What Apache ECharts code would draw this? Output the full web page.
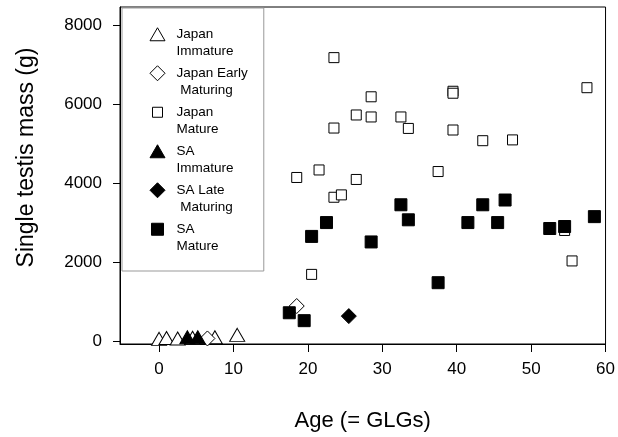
<!DOCTYPE html>
<html>
<head>
<meta charset="utf-8">
<script src="https://cdn.jsdelivr.net/npm/echarts@6/dist/echarts.min.js"></script>
<style>
html,body{margin:0;padding:0;background:#fff;}
#chart{width:618px;height:437px;}
</style>
</head>
<body>
<div id="chart"></div>
<script>
// ---- data (age in GLGs, single testis mass in g) ----
var japanImmature = [[0,70],[1,90],[2.5,80],[4.5,100],[7.5,110],[10.5,170]];
var japanEarlyMaturing = [[6.5,80],[18.5,900]];
var japanMature = [
  [23.5,7180],[28.5,6190],[39.5,6330],[39.5,6280],[57.5,6420],
  [26.5,5730],[28.5,5680],[32.5,5680],[23.5,5400],[33.5,5390],[39.5,5350],
  [43.5,5080],[47.5,5100],[21.5,4340],[18.5,4150],[37.5,4300],[26.5,4100],
  [23.5,3650],[24.5,3710],[20.5,1700],[54.5,2810],[55.5,2040]
];
var saImmature = [[3.8,110],[5.2,110]];
var saLateMaturing = [[25.5,645]];
var saMature = [
  [32.5,3460],[33.5,3080],[22.5,3010],[20.5,2660],[28.5,2520],[37.5,1490],
  [46.5,3580],[43.5,3460],[41.5,3010],[45.5,3010],[58.5,3160],[52.5,2860],
  [54.5,2910],[17.5,730],[19.5,530]
];
var xTicks = [0,10,20,30,40,50,60];
var yTicks = [0,2000,4000,6000,8000];
var seriesNames = ['Japan\nImmature','Japan Early\n Maturing','Japan\nMature','SA\nImmature','SA Late\n Maturing','SA\nMature'];

var FONT = 'Liberation Sans, Arial, Helvetica, sans-serif';
var openStyle = {color:'#fff', borderColor:'#000', borderWidth:1, opacity:1};
var fillStyle = {color:'#000', borderColor:'#000', borderWidth:1, opacity:1};

var B = 'path://M0,0M26,35';
var icons = [
  B + 'M4.5,15.25L12,2.25L19.5,15.25Z',
  B + 'M12,1.25L19.5,8.75L12,16.25L4.5,8.75Z',
  B + 'M7,3.75L17,3.75L17,13.75L7,13.75Z',
  B + 'M4.5,15.25L12,2.25L19.5,15.25Z',
  B + 'M12,1.25L19.5,8.75L12,16.25L4.5,8.75Z',
  B + 'M6,2.75L18,2.75L18,14.75L6,14.75Z'
];

function sc(name, data, symbol, size, style){
  return {type:'scatter', name:name, data:data, symbol:symbol, symbolSize:size,
    itemStyle:style, emphasis:{disabled:true}, animation:false};
}
function plain(v){ return String(v); }

var chart = echarts.init(document.getElementById('chart'), null, {renderer:'canvas'});
chart.setOption({
  animation:false,
  backgroundColor:'#fff',
  grid:{left:120, right:12, top:7, bottom:91, show:true, borderColor:'#000', borderWidth:1, backgroundColor:'transparent'},
  legend:{
    orient:'vertical', left:122, top:8, padding:[17,16,15,23],
    itemGap:3, itemWidth:26, itemHeight:35,
    backgroundColor:'#fff', borderColor:'#999', borderWidth:1, borderRadius:0,
    selectedMode:false,
    itemStyle:{borderWidth:1},
    textStyle:{fontSize:13.5, lineHeight:17.5, color:'#000', fontFamily:FONT},
    data: seriesNames.map(function(n,i){ return {name:n, icon:icons[i]}; })
  },
  xAxis:{
    type:'value', min:-5.25, max:60,
    axisLine:{show:true, onZero:false, lineStyle:{color:'#000', width:1}},
    axisTick:{show:true, inside:false, length:8, customValues:xTicks, lineStyle:{color:'#000'}},
    axisLabel:{customValues:xTicks, formatter:plain, fontSize:17, color:'#000', fontFamily:FONT, margin:17},
    splitLine:{show:false},
    name:'Age (= GLGs)', nameLocation:'middle', nameGap:66,
    nameTextStyle:{fontSize:22, color:'#000', fontFamily:FONT}
  },
  yAxis:{
    type:'value', min:-60, max:8460,
    axisLine:{show:true, onZero:false, lineStyle:{color:'#000', width:1}},
    axisTick:{show:true, inside:false, length:7, customValues:yTicks, lineStyle:{color:'#000'}},
    axisLabel:{customValues:yTicks, formatter:plain, fontSize:17, color:'#000', fontFamily:FONT, margin:18},
    splitLine:{show:false},
    name:'Single testis mass (g)', nameLocation:'middle', nameGap:82, nameRotate:90,
    nameTextStyle:{fontSize:23, color:'#000', fontFamily:FONT, padding:[0,0,0,36]}
  },
  series:[
    sc(seriesNames[0], japanImmature, 'triangle', [15,13], openStyle),
    sc(seriesNames[1], japanEarlyMaturing, 'diamond', [15,15], openStyle),
    sc(seriesNames[2], japanMature, 'rect', 10, openStyle),
    sc(seriesNames[3], saImmature, 'triangle', [15,13], fillStyle),
    sc(seriesNames[4], saLateMaturing, 'diamond', [15,15], fillStyle),
    sc(seriesNames[5], saMature, 'rect', 12, fillStyle)
  ]
});
</script>
</body>
</html>
